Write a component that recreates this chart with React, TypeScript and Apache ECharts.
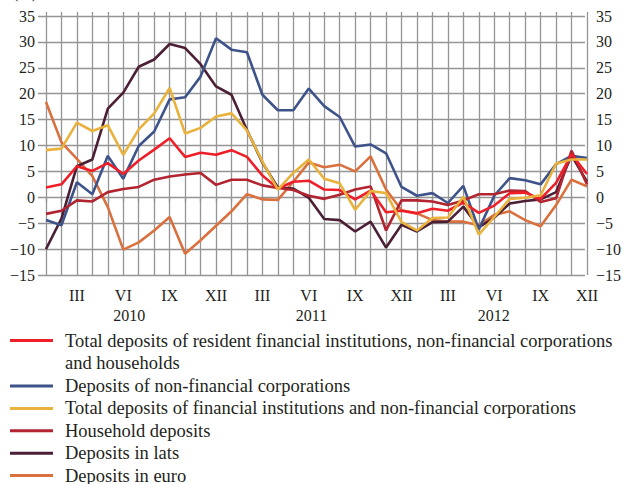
import { useEffect, useRef } from 'react';
import * as echarts from 'echarts';

const MONTHS = ['I', 'II', 'III', 'IV', 'V', 'VI', 'VII', 'VIII', 'IX', 'X', 'XI', 'XII'];
const YEARS = ['2010', '2011', '2012'];

const NAME_TOTAL = 'Total deposits of resident financial institutions, non-financial corporations and households';
const NAME_NFC = 'Deposits of non-financial corporations';
const NAME_FIN_NFC = 'Total deposits of financial institutions and non-financial corporations';
const NAME_HH = 'Household deposits';
const NAME_LATS = 'Deposits in lats';
const NAME_EURO = 'Deposits in euro';
const TOTAL_LINE_1 = 'Total deposits of resident financial institutions, non-financial corporations';
const TOTAL_LINE_2 = 'and households';

const TOTAL = [1.9, 2.5, 6.0, 5.1, 6.6, 4.5, 7.1, 9.2, 11.4, 7.8, 8.6, 8.2, 9.1, 7.8, 4.2, 1.7, 3.0, 3.2, 1.5, 1.4, -0.4, 1.3, -2.9, -2.6, -3.1, -2.2, -2.6, -1.0, -3.0, -1.6, 0.8, 0.9, -0.3, 2.8, 8.3, 4.5];
const NFC = [-4.4, -5.4, 2.9, 0.6, 8.0, 3.6, 9.9, 12.7, 18.9, 19.3, 23.3, 30.7, 28.5, 28.0, 19.8, 16.8, 16.8, 21.0, 17.6, 15.5, 9.8, 10.2, 8.5, 2.0, 0.3, 0.8, -1.1, 2.2, -6.2, 0.3, 3.7, 3.3, 2.5, 6.4, 8.0, 7.6];
const FIN_NFC = [9.1, 9.4, 14.4, 12.8, 13.9, 8.2, 13.1, 16.2, 21.1, 12.3, 13.4, 15.6, 16.2, 12.9, 6.9, 1.5, 4.7, 7.3, 3.6, 2.7, -2.4, 1.2, 0.8, -4.8, -6.4, -4.0, -3.9, 0.1, -7.2, -3.8, -0.3, -0.1, 0.4, 6.5, 7.3, 7.3];
const HOUSEHOLD = [-3.2, -2.6, -0.6, -0.8, 1.0, 1.6, 2.0, 3.4, 4.0, 4.4, 4.7, 2.4, 3.4, 3.4, 2.3, 1.8, 1.4, 0.3, -0.3, 0.5, 1.5, 2.1, -6.4, -0.6, -0.6, -0.8, -1.5, -0.6, 0.6, 0.6, 1.3, 1.2, -0.9, -0.2, 9.0, 2.5];
const LATS = [-10.0, -4.1, 6.0, 7.3, 17.1, 20.2, 25.2, 26.6, 29.6, 28.8, 25.7, 21.4, 19.8, 13.0, 6.7, 1.9, 1.7, -0.1, -4.2, -4.4, -6.6, -4.7, -9.7, -5.3, -6.6, -4.8, -4.7, -1.8, -5.8, -3.9, -1.2, -0.7, -0.4, 1.0, 8.1, 3.0];
const EURO = [18.4, 10.6, 7.4, 4.1, -1.9, -10.1, -8.7, -6.4, -3.8, -10.9, -8.3, -5.5, -2.7, 0.6, -0.4, -0.5, 3.0, 6.7, 5.8, 6.3, 5.0, 7.9, 1.5, -2.5, -3.1, -4.4, -4.7, -4.7, -5.4, -3.4, -2.7, -4.4, -5.6, -1.5, 3.4, 2.1];

const FONT = '"Liberation Serif", "Times New Roman", serif';
const TEXT = '#231f20';
const GRID = '#959595';
const LEGEND_FONT = 18.5;

const CATEGORIES = YEARS.flatMap((y) => MONTHS.map((m) => m + ' ' + y));

const fmtY = (v: number) => (v < 0 ? '\u2212' + Math.abs(v) : String(v));

export default function App() {
  const ref = useRef<HTMLDivElement>(null);
  useEffect(() => {
    if (!ref.current) return;
    const chart = echarts.init(ref.current, null, { renderer: 'svg' });
    const line = (name: string, data: number[], color: string) => ({
      name,
      type: 'line',
      xAxisIndex: 1,
      yAxisIndex: 2,
      data,
      color,
      showSymbol: false,
      symbol: 'none',
      lineStyle: { color, width: 2.6 },
      emphasis: { disabled: true },
    });
    const labelStyle = { fontFamily: FONT, fontSize: 16, color: TEXT };
    const legendText = { fontFamily: FONT, fontSize: LEGEND_FONT, color: TEXT };
    chart.setOption({
      animation: false,
      textStyle: { fontFamily: FONT },
      grid: [
        { left: 38, right: 29, top: 16, bottom: 209 },
        { left: 46, right: 37, top: 16, bottom: 209 },
      ],
      xAxis: [
        {
          gridIndex: 0,
          type: 'value',
          min: 0,
          max: 36,
          interval: 6,
          axisLine: { show: false },
          axisTick: { show: false },
          splitLine: { show: false },
          axisLabel: {
            ...labelStyle,
            margin: 32,
            formatter: (v: number) => (v % 12 === 6 ? YEARS[(v - 6) / 12] : ''),
          },
        },
        {
          gridIndex: 1,
          type: 'category',
          boundaryGap: false,
          data: CATEGORIES,
          axisLine: { show: false },
          axisTick: { show: true, interval: 0, length: 5, lineStyle: { color: GRID, width: 1.3 } },
          splitLine: { show: true, interval: 0, lineStyle: { color: GRID, width: 1.3 } },
          axisLabel: {
            ...labelStyle,
            margin: 12,
            interval: (i: number) => i % 3 === 2,
            formatter: (v: string) => v.split(' ')[0],
          },
        },
        {
          gridIndex: 1,
          type: 'category',
          position: 'top',
          boundaryGap: false,
          data: CATEGORIES,
          axisLine: { show: false },
          axisTick: { show: true, interval: 0, length: 4, lineStyle: { color: GRID, width: 1.3 } },
          splitLine: { show: false },
          axisLabel: { show: false },
        },
      ],
      yAxis: [
        {
          gridIndex: 0,
          type: 'value',
          position: 'left',
          min: -15,
          max: 35,
          interval: 5,
          axisLine: { show: false },
          axisTick: { show: false },
          splitLine: { show: true, lineStyle: { color: GRID, width: 1.3 } },
          axisLabel: { ...labelStyle, margin: 3, formatter: fmtY },
        },
        {
          gridIndex: 0,
          type: 'value',
          position: 'right',
          min: -15,
          max: 35,
          interval: 5,
          axisLine: { show: false },
          axisTick: { show: false },
          splitLine: { show: false },
          axisLabel: { ...labelStyle, margin: 11, formatter: fmtY },
        },
        { gridIndex: 1, type: 'value', min: -15, max: 35, show: false },
      ],
      legend: [
        {
          data: [NAME_TOTAL],
          orient: 'vertical',
          left: 10,
          top: 329.3,
          height: 40,
          padding: 0,
          icon: 'rect',
          itemWidth: 43,
          itemHeight: 3,
          itemGap: 0,
          selectedMode: false,
          formatter: () => TOTAL_LINE_1,
          textStyle: { ...legendText, lineHeight: 22.5, padding: [0, 0, 0, 7] },
        },
        {
          data: [NAME_NFC, NAME_FIN_NFC, NAME_HH, NAME_LATS, NAME_EURO],
          orient: 'vertical',
          left: 10,
          top: 374.8,
          height: 200,
          padding: 0,
          icon: 'rect',
          itemWidth: 43,
          itemHeight: 3,
          itemGap: 0,
          selectedMode: false,
          textStyle: { ...legendText, lineHeight: 22.4, padding: [0, 0, 0, 7] },
        },
      ],
      graphic: [
        {
          type: 'text',
          left: 13,
          top: -16,
          style: { text: '(%)', font: '16px ' + FONT, fill: TEXT },
        },
        {
          type: 'text',
          x: 65,
          y: 363,
          style: {
            text: TOTAL_LINE_2,
            font: LEGEND_FONT + 'px ' + FONT,
            fill: TEXT,
            verticalAlign: 'middle',
          },
        },
      ],
      series: [
        line(NAME_EURO, EURO, '#d9703e'),
        line(NAME_LATS, LATS, '#4b1f36'),
        line(NAME_NFC, NFC, '#3e5389'),
        line(NAME_HH, HOUSEHOLD, '#b22530'),
        line(NAME_TOTAL, TOTAL, '#ee1f28'),
        line(NAME_FIN_NFC, FIN_NFC, '#e9b23c'),
      ],
    });
    return () => chart.dispose();
  }, []);
  return (
    <div
      ref={ref}
      style={{ position: 'absolute', left: 0, top: 0, width: 624, height: 484 }}
    />
  );
}
